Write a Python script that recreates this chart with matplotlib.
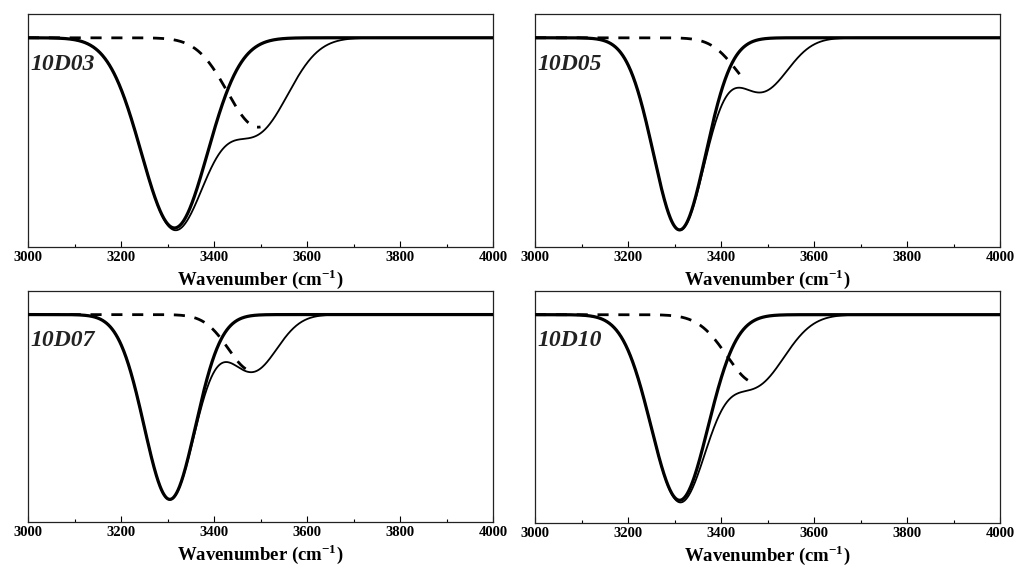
import numpy as np
import matplotlib
matplotlib.use("Agg")
import matplotlib.pyplot as plt
from matplotlib.ticker import MultipleLocator

# Sample names
samples = ["10D03", "10D05", "10D07", "10D10"]

# Fitted Gaussian components (centre cm-1, depth, sigma cm-1)
main_center = [3315, 3311, 3305, 3311]
main_depth = [1.00, 1.01, 0.98, 0.98]
main_sigma = [71, 56, 55, 61]

second_center = [3495, 3488, 3483, 3475]
second_depth = [0.47, 0.28, 0.30, 0.36]
second_sigma = [66, 55, 52, 62]

# where the dashed component stops being drawn (it merges into the envelope)
dash_end = [3500, 3440, 3480, 3465]

xticks = [3000, 3200, 3400, 3600, 3800, 4000]

plt.rcParams['font.family'] = ['Liberation Serif', 'DejaVu Serif']
plt.rcParams['mathtext.fontset'] = 'custom'
plt.rcParams['mathtext.rm'] = 'Liberation Serif:bold'
plt.rcParams['mathtext.bf'] = 'Liberation Serif:bold'

fig = plt.figure(figsize=(10.19, 5.70), dpi=100)

W, H = 1019, 570
boxes = [(28, 493, 14, 247), (535, 1000, 14, 247),
         (28, 493, 291, 522), (535, 1000, 291, 523)]

x = np.linspace(3000, 4000, 1001)

def gauss(xx, c, d, s):
    return -d * np.exp(-(xx - c) ** 2 / (2 * s ** 2))

for i, name in enumerate(samples):
    l, r, t, b = boxes[i]
    ax = fig.add_axes([l / W, 1 - b / H, (r - l) / W, (b - t) / H])
    g1 = gauss(x, main_center[i], main_depth[i], main_sigma[i])
    g2 = gauss(x, second_center[i], second_depth[i], second_sigma[i])
    total = g1 + g2
    xd = x[x <= dash_end[i]]
    g2d = gauss(xd, second_center[i], second_depth[i], second_sigma[i])
    ax.plot(xd, g2d, color='black', lw=2.0, ls=(0, (4, 3.5)), zorder=1)
    ax.plot(x, total, color='black', lw=1.3, zorder=2)
    ax.plot(x, g1, color='black', lw=2.3, zorder=3)

    ax.set_xlim(3000, 4000)
    ax.set_ylim(-1.1, 0.125)
    ax.set_xticks(xticks)
    ax.xaxis.set_minor_locator(MultipleLocator(100))
    ax.set_yticks([])
    ax.tick_params(axis='x', which='major', direction='in', length=4, width=0.8,
                   labelsize=10.5, pad=3)
    ax.tick_params(axis='x', which='minor', direction='in', length=2.5, width=0.8)
    for lab in ax.get_xticklabels():
        lab.set_fontweight('bold')
    for sp in ax.spines.values():
        sp.set_linewidth(0.9)
        sp.set_color('#222222')
    ax.set_xlabel(r'Wavenumber (cm$^{-1}$)', fontsize=13.5, fontweight='bold',
                  labelpad=2)
    ax.text(0.006, 0.785, name, transform=ax.transAxes, fontsize=17,
            fontweight='bold', fontstyle='italic', color='#222222',
            ha='left', va='center')

fig.savefig('out.png', dpi=100)
